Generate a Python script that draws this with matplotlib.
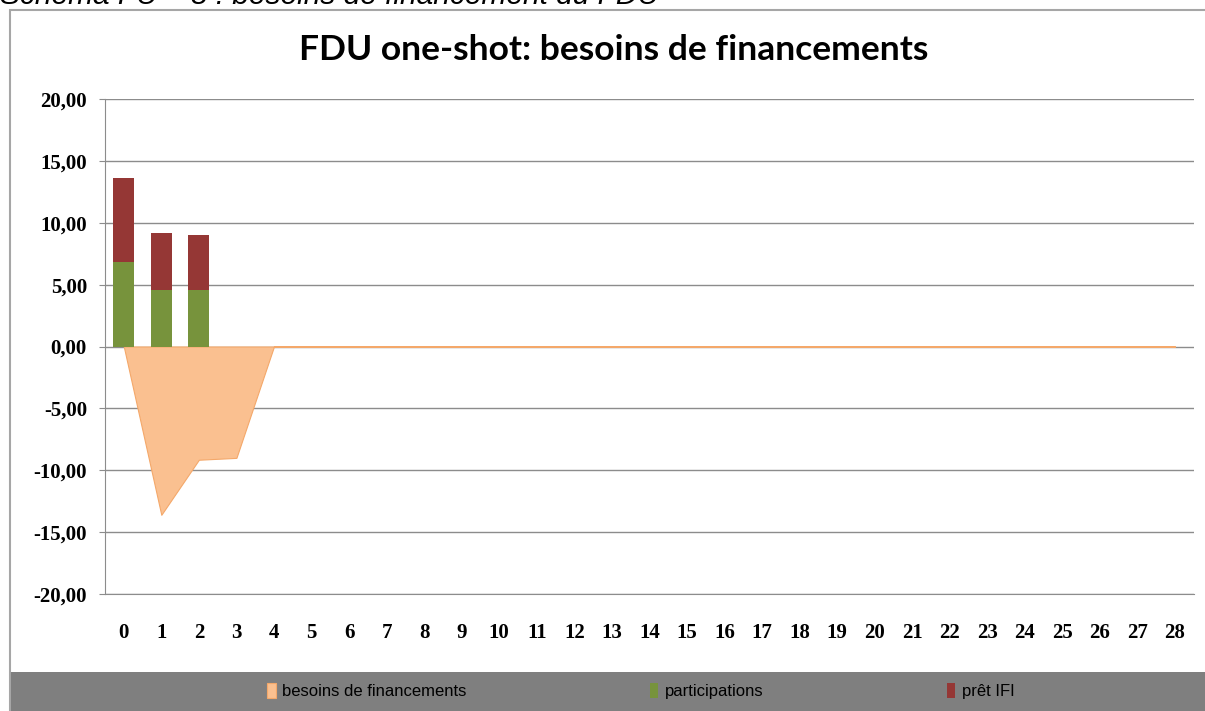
import matplotlib.pyplot as plt
import matplotlib.patches as mpatches
import numpy as np

# data
annees = list(range(29))
besoins = [0, -13.6, -9.15, -9.0] + [0] * 25
participations = [6.8, 4.55, 4.55] + [0] * 26
pret_ifi = [6.8, 4.6, 4.45] + [0] * 26
yticks = [-20, -15, -10, -5, 0, 5, 10, 15, 20]

c_besoins = '#FAC090'
c_part = '#77933C'
c_pret = '#953735'
c_grid = '#8C8C8C'

fig = plt.figure(figsize=(12.05, 7.11), dpi=100)

# outer chart frame + grey legend band
fig.patches.append(mpatches.Rectangle((10/1205, -0.01), 1.0, 1 - 10/711 + 0.01, transform=fig.transFigure,
                                      facecolor='white', edgecolor='#A6A6A6', lw=1.5, zorder=-2))
fig.patches.append(mpatches.Rectangle((11/1205, 0), 1.0, 39/711, transform=fig.transFigure,
                                      facecolor='#7F7F7F', edgecolor='none', zorder=-1))

# cut-off caption at top
fig.text(0.0, 1 - 4/711, 'Schéma FU – 8 : besoins de financement du FDU', fontsize=21.5,
         style='italic', family='Liberation Sans', va='baseline', ha='left')

ax = fig.add_axes([105/1205, 117/711, 1088.75/1205, 495/711])
ax.set_facecolor('none')
x = np.array(annees)

ax.fill_between(x, besoins, 0, facecolor=c_besoins, edgecolor='#F4A86A', lw=0.8, zorder=2, label='besoins de financements')
ax.bar(x, participations, width=0.56, color=c_part, zorder=3, label='participations')
ax.bar(x, pret_ifi, width=0.56, bottom=participations, color=c_pret, zorder=3, label='prêt IFI')

ax.set_xlim(-0.5, 28.5)
ax.set_ylim(-20, 20)
ax.set_yticks(yticks)
ax.set_yticklabels([('%.2f' % v).replace('.', ',') for v in yticks])
ax.set_xticks(x)
ax.set_xticklabels([str(a) for a in annees])
ax.grid(axis='y', color=c_grid, lw=1, zorder=1)
ax.set_axisbelow(True)
for s in ['top', 'right']:
    ax.spines[s].set_visible(False)
ax.spines['left'].set_color(c_grid)
ax.spines['bottom'].set_color(c_grid)
ax.tick_params(axis='y', length=4, color=c_grid, pad=9)
ax.tick_params(axis='x', length=0, pad=21)
for lab in ax.get_xticklabels() + ax.get_yticklabels():
    lab.set_fontfamily('Liberation Serif')
    lab.set_fontweight('bold')
    lab.set_fontsize(15)

fig.text(614/1205, 1 - 50/711, 'FDU one-shot: besoins de financements', ha='center', va='center',
         fontsize=25.5, fontweight='bold', family='Lato')

handles, labels = ax.get_legend_handles_labels()
fig.legend(handles, labels, loc='center', bbox_to_anchor=(641/1205, 20/711), ncol=3, frameon=False,
           handlelength=0.5, handleheight=1.0, handletextpad=0.4, columnspacing=11,
           prop={'family': 'Liberation Sans', 'size': 12})

fig.savefig('out.png', dpi=100)
